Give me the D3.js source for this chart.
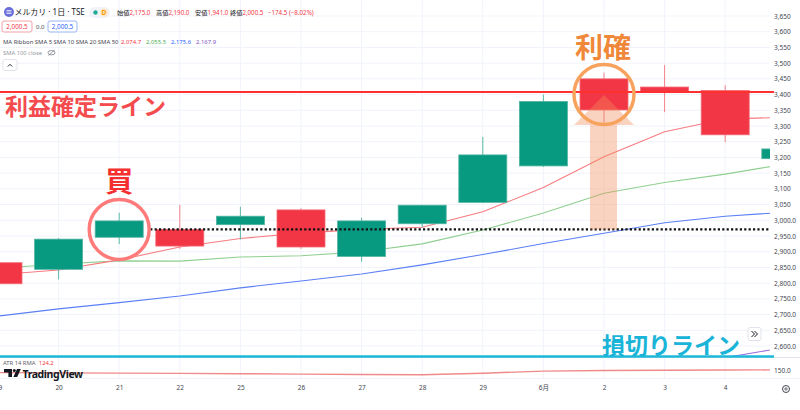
<!DOCTYPE html>
<html><head><meta charset="utf-8">
<script src="https://cdn.jsdelivr.net/npm/d3@7"></script>
<style>
body{margin:0;background:#fff;overflow:hidden}
svg{display:block;font-family:"Noto Sans","Noto Sans CJK JP",sans-serif}
</style>
</head><body>
<svg id="c" width="800" height="410"></svg>
<script>
// ---- data ----
const days   = ["19","20","21","22","25","26","27","28","29","6月","2","3","4","5"];
const openV  = [2865,2844,2946,2971,2986,3033,2885,2989,3057,3173,3450,3424,3413,3196];
const highV  = [2872,2943,3024,3049,3043,3038,3008,3049,3265,3400,3470,3494,3430,3230];
const lowV   = [2795,2812,2924,2909,2939,2909,2868,2978,3055,3170,3310,3344,3249,3190];
const closeV = [2798,2940,2998,2918,3013,2915,2998,3048,3208,3378,3351,3409,3272,3227];
const sma5   = [2827,2842,2874,2915,2942,2959,2971,2978,3027,3104,3202,3282,3322,3328];
const sma10  = [2847,2861,2871,2870,2883,2887,2900,2925,2969,3023,3086,3120,3147,3179];
const sma20  = [2695,2718,2738,2759,2785,2807,2829,2858,2891,2926,2959,2992,3013,3026];
const sma50  = [null,null,null,null,null,null,null,null,null,null,null,2530,2563,2596];
const atr    = [128,126,124,122,119,116,113,110,123,141,146,148,150,151];
const priceTicks  = [3650,3600,3550,3500,3450,3400,3350,3300,3250,3200,3150,3100,3050,3000,2950,2900,2850,2800,2750,2700,2650,2600];
const priceLabels = ["3,650","3,600","3,550","3,500","3,450","3,400","3,350","3,300","3,250","3,200","3,150","3,100","3,050","3,000.0","2,950.0","2,900.0","2,850.0","2,800.0","2,750.0","2,700.0","2,650.0","2,600.0"];
const takeProfitPrice = 3408;
const entryPrice = 2971;
const buyIndex = 2, sellIndex = 10;
const atrTicks = [150], atrLabels = ["150.0"];

// ---- layout ----
const svg = d3.select("#c");
const plotW = 770, plotH = 357;
const x = d3.scaleLinear().domain([0, 13]).range([-2, 785.8]);
const y = d3.scaleLinear().domain([2600, 3650]).range([346, 16]);
const ya = d3.scaleLinear().domain([100, 150]).range([376, 370]);
const idx = d3.range(days.length);
const bodyW = 48;

const defs = svg.append("defs");
defs.append("clipPath").attr("id","clipMain").append("rect").attr("x",0).attr("y",0).attr("width",plotW).attr("height",plotH);
defs.append("clipPath").attr("id","clipAtr").append("rect").attr("x",0).attr("y",358).attr("width",plotW).attr("height",20);

// grid
const grid = svg.append("g");
grid.selectAll("line.h").data(priceTicks).join("line")
  .attr("x1",0).attr("x2",plotW).attr("y1",d=>y(d)).attr("y2",d=>y(d))
  .attr("stroke","#f0f3fa").attr("stroke-width",1);
grid.selectAll("line.v").data(idx.slice(0,13)).join("line")
  .attr("x1",d=>x(d)).attr("x2",d=>x(d)).attr("y1",0).attr("y2",378)
  .attr("stroke","#f0f3fa").attr("stroke-width",1);
svg.append("line").attr("x1",0).attr("x2",800).attr("y1",357.5).attr("y2",357.5).attr("stroke","#e0e3eb");
svg.append("line").attr("x1",0).attr("x2",800).attr("y1",378.5).attr("y2",378.5).attr("stroke","#f0f3fa");

const main = svg.append("g").attr("clip-path","url(#clipMain)");

// SMA lines
const lineGen = arr => d3.line().defined(i=>arr[i]!=null).x(i=>x(i)).y(i=>y(arr[i]))(idx);
[[sma50,"#9c6ade"],[sma20,"#5b7ff5"],[sma10,"#8fcf8f"],[sma5,"#f77c80"]].forEach(([arr,c])=>{
  main.append("path").attr("d",lineGen(arr)).attr("fill","none").attr("stroke",c).attr("stroke-width",1.1);
});

// candles
const up = "#089981", dn = "#f23645";
const cg = main.append("g");
cg.selectAll("line.w").data(idx).join("line")
  .attr("x1",i=>x(i)).attr("x2",i=>x(i))
  .attr("y1",i=>y(highV[i])).attr("y2",i=>y(lowV[i]))
  .attr("stroke",i=>closeV[i]>=openV[i]?"#5cb8a6":"#f4828c").attr("stroke-width",1);
cg.selectAll("rect.b").data(idx).join("rect")
  .attr("x",i=>x(i)-bodyW/2).attr("width",bodyW)
  .attr("y",i=>y(Math.max(openV[i],closeV[i])))
  .attr("height",i=>Math.max(1,Math.abs(y(openV[i])-y(closeV[i]))))
  .attr("fill",i=>closeV[i]>=openV[i]?up:dn)
  .attr("stroke",i=>closeV[i]>=openV[i]?"#4fb3a1":"#f46a75").attr("stroke-width",0.8);

// entry dotted line
main.append("line").attr("x1",x(buyIndex)+31).attr("x2",plotW+4)
  .attr("y1",y(entryPrice)).attr("y2",y(entryPrice))
  .attr("stroke","#111").attr("stroke-width",2.4).attr("stroke-dasharray","2.2,2.2");

// take profit line
svg.append("line").attr("x1",0).attr("x2",774).attr("y1",y(takeProfitPrice)).attr("y2",y(takeProfitPrice))
  .attr("stroke","#ff3030").attr("stroke-width",2);

// stop loss line
svg.append("line").attr("x1",0).attr("x2",774).attr("y1",356.5).attr("y2",356.5)
  .attr("stroke","#1cb8d8").attr("stroke-width",2.5);

// up arrow
const ax = x(sellIndex);
const arrowBase = y(takeProfitPrice) + 33, arrowTip = y(takeProfitPrice) + 3;
const arrowBottom = y(entryPrice);
svg.append("path")
  .attr("d",`M${ax-14},${arrowBottom} L${ax-14},${arrowBase} L${ax-30},${arrowBase} L${ax},${arrowTip} L${ax+30},${arrowBase} L${ax+13},${arrowBase} L${ax+13},${arrowBottom} Z`)
  .attr("fill","rgba(242,140,90,0.38)");

// circles
svg.append("circle").attr("cx",x(buyIndex)).attr("cy",y(entryPrice)).attr("r",30)
  .attr("fill","none").attr("stroke","#ff7b7b").attr("stroke-width",3.5);
svg.append("circle").attr("cx",x(sellIndex)).attr("cy",y(takeProfitPrice)+2.5).attr("r",30)
  .attr("fill","none").attr("stroke","#f7a35e").attr("stroke-width",3.5);

// annotation text
const ann = (t,xx,yy,size,col,anchor)=>svg.append("text").text(t).attr("x",xx).attr("y",yy)
  .attr("font-size",size).attr("font-weight",700).attr("fill",col)
  .attr("text-anchor",anchor||"middle").attr("dominant-baseline","central")
  .style("font-family",'"Noto Sans CJK JP",sans-serif');
ann("利益確定ライン",5,105,23,"#f44b4e","start");
ann("利確",x(sellIndex)-1,45.5,28,"#f0883a");
ann("買",x(buyIndex),180,28,"#f52f2f");
ann("損切りライン",602,343.5,23,"#1ab4d8","start");

// ATR panel
svg.append("g").attr("clip-path","url(#clipAtr)").append("path")
  .attr("d",d3.line().x(i=>x(i)).y(i=>ya(atr[i]))(idx))
  .attr("fill","none").attr("stroke","#f08a8a").attr("stroke-width",1.4);
svg.append("text").attr("x",3).attr("y",364.5).attr("font-size",5.8).attr("fill","#5d606b")
  .html('ATR 14 RMA <tspan fill="#f23645" dx="2">124.2</tspan>');
// TradingView logo
const lg = svg.append("g").attr("fill","#131722");
lg.append("path").attr("d","M4,369 h8 v8 h-3.6 v-4.6 h-4.4 z");
lg.append("circle").attr("cx",14.3).attr("cy",370.5).attr("r",1.5);
lg.append("path").attr("d","M17,369 h3.8 l-3.6,8 h-3.8 z");
svg.append("text").attr("x",22.5).attr("y",377.5).attr("font-size",10.5).attr("font-weight",700)
  .attr("fill","#131722").attr("letter-spacing",-0.4).text("TradingView");

// right price axis
const yAxis = d3.axisRight(y).tickValues(priceTicks).tickFormat((d,i)=>priceLabels[i]).tickSize(0).tickPadding(0);
const ga = svg.append("g").attr("transform","translate(774,0)").call(yAxis);
ga.select(".domain").remove();
ga.selectAll("text").attr("font-size",6.5).attr("fill","#434651").style("font-family","'Noto Sans',sans-serif");
const atrAxis = d3.axisRight(ya).tickValues(atrTicks).tickFormat((d,i)=>atrLabels[i]).tickSize(0).tickPadding(0);
const gaa = svg.append("g").attr("transform","translate(774,0)").call(atrAxis);
gaa.select(".domain").remove();
gaa.selectAll("text").attr("font-size",6.5).attr("fill","#434651").style("font-family","'Noto Sans',sans-serif");

// bottom axis
const xAxis = d3.axisBottom(x).tickValues(idx.slice(0,13)).tickFormat(i=>days[i]).tickSize(0).tickPadding(0);
const gx = svg.append("g").attr("transform","translate(0,385)").call(xAxis);
gx.select(".domain").remove();
gx.selectAll("text").attr("font-size",6.5).attr("fill","#434651").style("font-family","'Noto Sans','Noto Sans CJK JP',sans-serif");

// scroll button & gear
svg.append("rect").attr("x",748).attr("y",327.5).attr("width",13).attr("height",13).attr("rx",2)
  .attr("fill","#fff").attr("stroke","#e0e3eb");
svg.append("path").attr("d","M751.5,331 l3,3 l-3,3 M754.5,331 l3,3 l-3,3").attr("fill","none").attr("stroke","#131722").attr("stroke-width",1);
svg.append("circle").attr("cx",786).attr("cy",389).attr("r",3.5).attr("fill","none").attr("stroke","#434651").attr("stroke-width",1);
svg.append("circle").attr("cx",786).attr("cy",389).attr("r",1.2).attr("fill","none").attr("stroke","#434651").attr("stroke-width",0.8);

// header
const h = svg.append("g").style("font-family","'Noto Sans','Noto Sans CJK JP',sans-serif");
h.append("circle").attr("cx",9).attr("cy",12).attr("r",5).attr("fill","#6b6fd9");
h.append("path").attr("d","M6.5,10.5 h5 M6.5,12 h5 M6.5,13.5 h5").attr("stroke","#fff").attr("stroke-width",0.7);
h.append("text").attr("x",14.5).attr("y",15).attr("font-size",8).attr("fill","#131722").text("メルカリ · 1日 · TSE");
h.append("rect").attr("x",89).attr("y",7).attr("width",21).attr("height",11).attr("rx",5.5).attr("fill","#f0f3fa");
h.append("circle").attr("cx",95.5).attr("cy",12.5).attr("r",2.2).attr("fill","#22ab94");
h.append("circle").attr("cx",104).attr("cy",12.5).attr("r",4.3).attr("fill","#ffe8c7");
h.append("text").attr("x",104).attr("y",15).attr("font-size",6.5).attr("font-weight",700).attr("text-anchor","middle").attr("fill","#ff9800").text("D");
const ohlc = [["始値","2,175.0",117],["高値","2,190.0",156],["安値","1,941.0",195],["終値","2,000.5",230]];
ohlc.forEach(([k,v,xx])=>{
  h.append("text").attr("x",xx).attr("y",15).attr("font-size",6.2).attr("fill","#131722")
   .html(`${k}<tspan fill="#f23645">${v}</tspan>`);
});
h.append("text").attr("x",268).attr("y",15).attr("font-size",6.2).attr("fill","#f23645").text("−174.5 (−8.02%)");
// row 2
h.append("rect").attr("x",2).attr("y",21).attr("width",30).attr("height",11).attr("rx",2).attr("fill","#fff").attr("stroke","#f7a1a8");
h.append("text").attr("x",17).attr("y",29).attr("font-size",6.3).attr("text-anchor","middle").attr("fill","#f23645").text("2,000.5");
h.append("text").attr("x",36).attr("y",29).attr("font-size",6).attr("fill","#434651").text("0.0");
h.append("rect").attr("x",48).attr("y",21).attr("width",29).attr("height",11).attr("rx",2).attr("fill","#fff").attr("stroke","#9bb4f7");
h.append("text").attr("x",62.5).attr("y",29).attr("font-size",6.3).attr("text-anchor","middle").attr("fill","#2962ff").text("2,000.5");
// row 3
h.append("text").attr("x",3).attr("y",44).attr("font-size",5.9).attr("fill","#434651").text("MA Ribbon SMA 5 SMA 10 SMA 20 SMA 50");
[["2,074.7",121,"#f23645"],["2,055.5",146,"#4caf50"],["2,175.6",171,"#2962ff"],["2,167.9",196,"#7e57c2"]].forEach(([t,xx,c])=>{
  h.append("text").attr("x",xx).attr("y",44).attr("font-size",5.9).attr("fill",c).text(t);
});
// row 4
h.append("text").attr("x",3).attr("y",55).attr("font-size",5.8).attr("fill","#9598a1").text("SMA 100 close");
h.append("ellipse").attr("cx",51.5).attr("cy",52.7).attr("rx",3.5).attr("ry",2.2).attr("fill","none").attr("stroke","#787b86").attr("stroke-width",0.8);
h.append("line").attr("x1",48.5).attr("y1",55.5).attr("x2",54.5).attr("y2",50).attr("stroke","#787b86").attr("stroke-width",0.8);
// row 5
h.append("rect").attr("x",3).attr("y",59.5).attr("width",14).attr("height",11).attr("rx",2).attr("fill","#fff").attr("stroke","#e0e3eb");
h.append("path").attr("d","M7.8,66.5 l2.2,-2.2 l2.2,2.2").attr("fill","none").attr("stroke","#131722").attr("stroke-width",0.9);
</script>
</body></html>
